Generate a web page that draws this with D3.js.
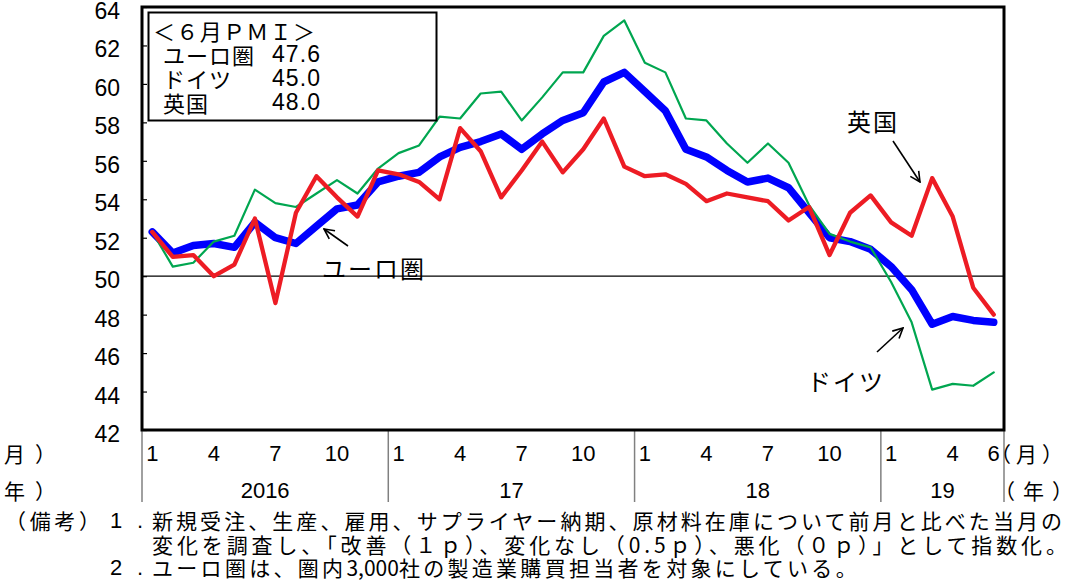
<!DOCTYPE html>
<html>
<head>
<meta charset="utf-8">
<script src="https://cdn.jsdelivr.net/npm/d3@7"></script>
<style>
  html, body { margin: 0; padding: 0; background: #fff; }
  svg { display: block; }
  .num { font-family: "Liberation Sans", Arial, sans-serif; }
  .jp  { font-family: "Noto Sans CJK JP", "Noto Sans", sans-serif; }
</style>
</head>
<body>
<svg id="chart" width="1084" height="582"></svg>
<script>
// Manufacturing PMI, Jan 2016 – Jun 2019 (monthly)
const years = ["2016", "17", "18", "19"];
const monthNumbers = [1,2,3,4,5,6,7,8,9,10,11,12, 1,2,3,4,5,6,7,8,9,10,11,12,
                      1,2,3,4,5,6,7,8,9,10,11,12, 1,2,3,4,5,6];
const monthTickLabels = ["1", "4", "7", "10"];
const lastMonthLabel = "6";

const euroArea = [52.3,51.2,51.6,51.7,51.5,52.8,52.0,51.7,52.6,53.5,53.7,54.9,
                  55.2,55.4,56.2,56.7,57.0,57.4,56.6,57.4,58.1,58.5,60.1,60.6,
                  59.6,58.6,56.6,56.2,55.5,54.9,55.1,54.6,53.3,52.0,51.8,51.4,
                  50.5,49.3,47.5,47.9,47.7,47.6];
const germany  = [52.3,50.5,50.7,51.8,52.1,54.5,53.8,53.6,54.3,55.0,54.3,55.6,
                  56.4,56.8,58.3,58.2,59.5,59.6,58.1,59.3,60.6,60.6,62.5,63.3,
                  61.1,60.6,58.2,58.1,56.9,55.9,56.9,55.9,53.7,52.2,51.8,51.5,
                  49.7,47.6,44.1,44.4,44.3,45.0];
const uk       = [52.3,51.0,51.1,50.0,50.6,53.0,48.6,53.3,55.2,54.1,53.1,55.5,
                  55.3,54.9,54.0,57.7,56.5,54.1,55.5,57.0,55.4,56.6,58.2,55.7,
                  55.2,55.3,54.8,53.9,54.3,54.1,53.9,52.9,53.6,51.1,53.3,54.2,
                  52.8,52.1,55.1,53.1,49.4,48.0];

const yTicks = [42,44,46,48,50,52,54,56,58,60,62,64];

const legendTitle = "＜６月ＰＭＩ＞";
const legendNames = ["ユーロ圏", "ドイツ", "英国"];
const legendValues = ["47.6", "45.0", "48.0"];

const noteLines = [
  "新規受注、生産、雇用、サプライヤー納期、原材料在庫について前月と比べた当月の",
  "変化を調査し、「改善（１ｐ）、変化なし（0.5ｐ）、悪化（０ｐ）」として指数化。",
  ["ユーロ圏は、圏内", "3,000", "社の製造業購買担当者を対象にしている。"]
];

const svg = d3.select("#chart");
svg.append("rect").attr("width", 1084).attr("height", 582).attr("fill", "#fff");

const plotLeft = 142, plotRight = 1004, plotTop = 7, plotBottom = 430;
const n = euroArea.length;

const x = d3.scaleBand().domain(d3.range(n)).range([plotLeft, plotRight]);
const cx = i => x(i) + x.bandwidth() / 2;
const y = d3.scaleLinear().domain([42, 64]).range([plotBottom, plotTop]);

// y axis: ticks pointing inward
const yAxis = svg.append("g")
  .attr("transform", `translate(${plotLeft},0)`)
  .call(d3.axisLeft(y).tickValues(yTicks).tickSize(-5).tickPadding(22));
yAxis.select(".domain").remove();
yAxis.selectAll(".tick line").attr("stroke", "#000").attr("stroke-width", 1.2);
yAxis.selectAll(".tick text")
  .attr("class", "num")
  .attr("font-size", 23)
  .attr("fill", "#000")
  .attr("dy", "0.5em");

// reference line at 50
svg.append("line")
  .attr("x1", plotLeft).attr("x2", plotRight)
  .attr("y1", y(50)).attr("y2", y(50))
  .attr("stroke", "#000").attr("stroke-width", 1.2);

// year separators below the plot
const sepX = [x(0), x(12), x(24), x(36), plotRight];
svg.append("g").selectAll("line").data(sepX).join("line")
  .attr("x1", d => d).attr("x2", d => d)
  .attr("y1", plotBottom).attr("y2", 502)
  .attr("stroke", "#808080").attr("stroke-width", 1.5);

// month labels
const monthIdx = d3.range(n).filter(i => monthTickLabels.includes(String(monthNumbers[i])) || i === n - 1);
svg.append("g").selectAll("text").data(monthIdx).join("text")
  .attr("class", "num")
  .attr("x", i => cx(i)).attr("y", 453)
  .attr("text-anchor", "middle")
  .attr("dominant-baseline", "central")
  .attr("font-size", 22)
  .text(i => i === n - 1 ? lastMonthLabel : String(monthNumbers[i]));

// year labels
svg.append("g").selectAll("text").data(years).join("text")
  .attr("class", "num")
  .attr("x", (d, k) => (sepX[k] + sepX[k + 1]) / 2).attr("y", 490)
  .attr("text-anchor", "middle")
  .attr("dominant-baseline", "central")
  .attr("font-size", 22)
  .text(d => d);

// unit labels on both sides
const unitText = (txt, xx, yy, ls) => svg.append("text")
  .attr("class", "jp").attr("x", xx).attr("y", yy)
  .attr("dominant-baseline", "central")
  .attr("font-size", 21).attr("letter-spacing", ls).text(txt);
unitText("月）", 4, 453, 10);
unitText("年）", 4, 490, 10);
unitText("（月）", 990, 453, 5);
unitText("（年）", 994, 490, 8);

// series lines
const line = d3.line().x((d, i) => cx(i)).y(d => y(d)).curve(d3.curveLinear);
const series = [
  { values: euroArea, color: "#0000ff", width: 7.5 },
  { values: germany,  color: "#00a650", width: 2.2 },
  { values: uk,       color: "#ed1c24", width: 4.3 }
];
svg.append("g").selectAll("path").data(series).join("path")
  .attr("d", d => line(d.values))
  .attr("fill", "none")
  .attr("stroke", d => d.color)
  .attr("stroke-width", d => d.width)
  .attr("stroke-linejoin", "round")
  .attr("stroke-linecap", "round");

// plot frame
svg.append("rect")
  .attr("x", plotLeft).attr("y", plotTop)
  .attr("width", plotRight - plotLeft).attr("height", plotBottom - plotTop)
  .attr("fill", "none").attr("stroke", "#000").attr("stroke-width", 3);

// legend box
const lg = svg.append("g");
lg.append("rect").attr("x", 148.5).attr("y", 12.5).attr("width", 288).attr("height", 108)
  .attr("fill", "#fff").attr("stroke", "#000").attr("stroke-width", 2);
lg.append("text").attr("class", "jp").attr("x", 153).attr("y", 30)
  .attr("dominant-baseline", "central").attr("font-size", 22)
  .attr("textLength", 162).attr("lengthAdjust", "spacing")
  .text(legendTitle);
legendNames.forEach((name, k) => {
  const yy = 54 + k * 24;
  lg.append("text").attr("class", "jp").attr("x", 163).attr("y", yy)
    .attr("dominant-baseline", "central").attr("font-size", 22)
    .attr("letter-spacing", 1).text(name);
  lg.append("text").attr("class", "num").attr("x", 272).attr("y", yy)
    .attr("dominant-baseline", "central").attr("font-size", 23)
    .attr("textLength", 48).attr("lengthAdjust", "spacing")
    .text(legendValues[k]);
});

// annotations with arrows
svg.append("defs").append("marker")
  .attr("id", "arrowhead").attr("viewBox", "0 0 12 12")
  .attr("refX", 11).attr("refY", 6)
  .attr("markerWidth", 12).attr("markerHeight", 12)
  .attr("markerUnits", "userSpaceOnUse")
  .attr("orient", "auto")
  .append("path").attr("d", "M1,1 L11,6 L1,11")
  .attr("fill", "none").attr("stroke", "#000").attr("stroke-width", 1.6);

const annotations = [
  { label: "ユーロ圏", lx: 322, ly: 267, from: [348, 246], to: [324, 229] },
  { label: "英国",     lx: 847, ly: 120, from: [893, 141], to: [920, 182] },
  { label: "ドイツ",   lx: 807, ly: 380, from: [877, 352], to: [903, 328] }
];
annotations.forEach(a => {
  svg.append("text").attr("class", "jp")
    .attr("x", a.lx).attr("y", a.ly)
    .attr("dominant-baseline", "central").attr("font-size", 24)
    .attr("letter-spacing", 2).text(a.label);
  svg.append("line")
    .attr("x1", a.from[0]).attr("y1", a.from[1])
    .attr("x2", a.to[0]).attr("y2", a.to[1])
    .attr("stroke", "#000").attr("stroke-width", 1.6)
    .attr("marker-end", "url(#arrowhead)");
});

// notes
const notes = svg.append("g").attr("class", "jp").attr("font-size", 21);
const noteY = [520, 544, 567];
notes.append("text").attr("x", 5).attr("y", noteY[0]).attr("dominant-baseline", "central")
  .attr("textLength", 95).attr("lengthAdjust", "spacing").text("（備考）");
[["1", 0], ["2", 2]].forEach(([num, row]) => {
  notes.append("text").attr("class", "num").attr("x", 116).attr("y", noteY[row])
    .attr("text-anchor", "middle").attr("dominant-baseline", "central").attr("font-size", 22).text(num);
  notes.append("text").attr("class", "num").attr("x", 140).attr("y", noteY[row])
    .attr("text-anchor", "middle").attr("dominant-baseline", "central").attr("font-size", 22).text(".");
});
notes.append("text").attr("x", 152).attr("y", noteY[0]).attr("dominant-baseline", "central")
  .attr("textLength", 910).attr("lengthAdjust", "spacing").text(noteLines[0]);
notes.append("text").attr("x", 152).attr("y", noteY[1]).attr("dominant-baseline", "central")
  .attr("textLength", 915).attr("lengthAdjust", "spacing").text(noteLines[1]);
const l3 = notes.append("text").attr("x", 152).attr("y", noteY[2]).attr("dominant-baseline", "central");
l3.append("tspan").attr("letter-spacing", 3.3).text(noteLines[2][0]);
l3.append("tspan").attr("letter-spacing", 0).text(noteLines[2][1]);
l3.append("tspan").attr("letter-spacing", 3.3).text(noteLines[2][2]);
</script>
</body>
</html>
